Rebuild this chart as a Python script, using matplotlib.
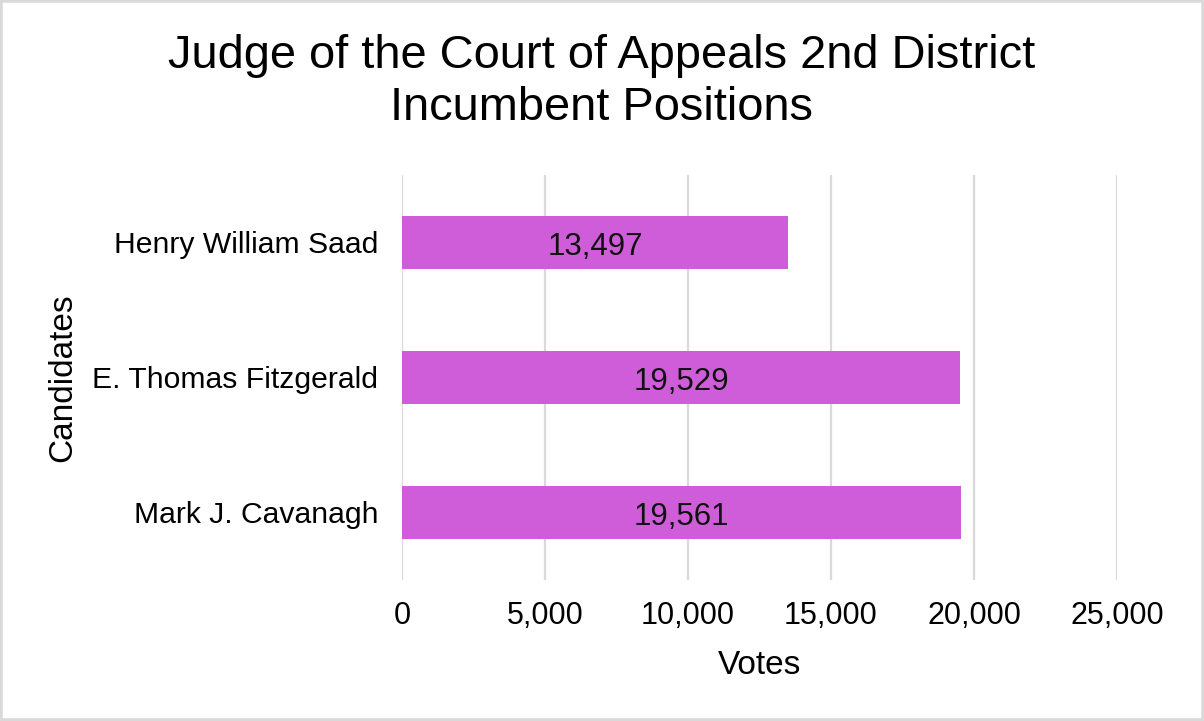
import matplotlib.pyplot as plt
from matplotlib.patches import Rectangle
from matplotlib.ticker import FuncFormatter

plt.rcParams['font.family'] = ['Liberation Sans', 'DejaVu Sans']

# data
candidates = ['Henry William Saad', 'E. Thomas Fitzgerald', 'Mark J. Cavanagh']
votes = [13497, 19529, 19561]
x_ticks = [0, 5000, 10000, 15000, 20000, 25000]

fig = plt.figure(figsize=(12.04, 7.21), dpi=100)
ax = fig.add_axes([0.3339, 0.1956, 0.5938, 0.5617])

ypos = list(range(len(candidates)))
bars = ax.barh(ypos, votes, height=0.39, color='#CF5CD9', zorder=3)
for b, v in zip(bars, votes):
    ax.text(b.get_width() / 2, b.get_y() + b.get_height() / 2 + 0.03, f'{v:,}',
            ha='center', va='center', fontsize=22.5, color='#111111', zorder=4)

ax.set_yticks(ypos)
ax.set_yticklabels(candidates, fontsize=21.7)
ax.set_ylim(2.5, -0.5)
ax.set_xlim(0, 25000)
ax.set_xticks(x_ticks)
ax.xaxis.set_major_formatter(FuncFormatter(lambda v, p: f'{int(v):,}'))
ax.tick_params(axis='x', labelsize=22, length=0, pad=15)
ax.tick_params(axis='y', length=0, pad=17)
ax.grid(axis='x', color='#d9d9d9', linewidth=1.6, zorder=0)
for s in ax.spines.values():
    s.set_visible(False)

ax.set_xlabel('Votes', fontsize=24, labelpad=14)
ax.set_ylabel('Candidates', fontsize=24, labelpad=10)

fig.text(0.5, 1 - 82 / 721, 'Judge of the Court of Appeals 2nd District\nIncumbent Positions',
         ha='center', va='center', fontsize=33.8, linespacing=1.22)

fig.patches.append(Rectangle((0, 0), 1, 1, transform=fig.transFigure, fill=False,
                             edgecolor='#d9d9d9', linewidth=4))

fig.savefig('out.png', dpi=100)
